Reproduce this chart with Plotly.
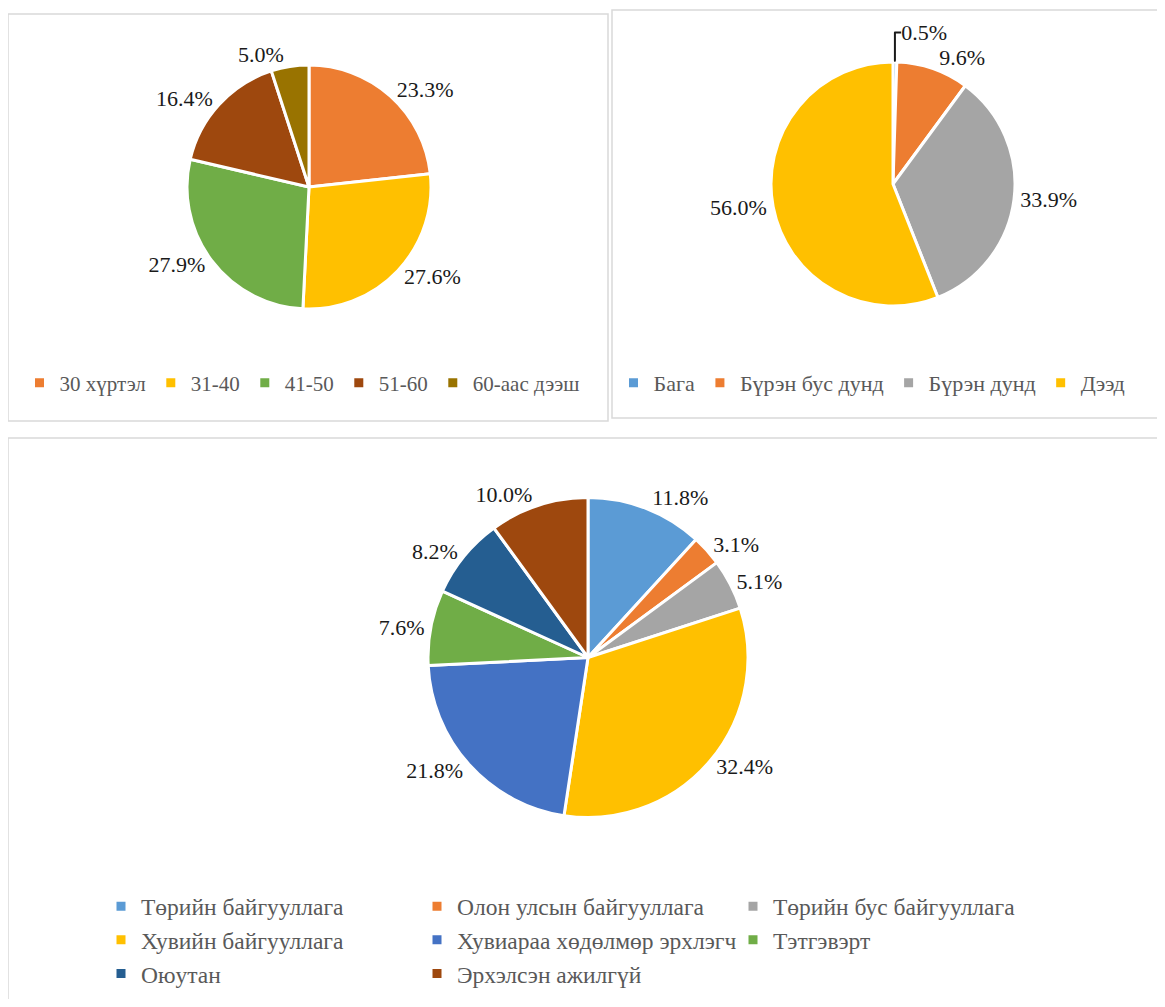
import plotly.graph_objects as go

# page is shown inside the default 8px body margin; figure sized to fit the window
OFF = 8
W, H = 1165 - 2 * OFF, 1007 - 2 * OFF

# ---- data ----
age_labels = ["30 хүртэл", "31-40", "41-50", "51-60", "60-аас дээш"]
age_values = [23.3, 27.6, 27.9, 16.4, 5.0]
age_colors = ["#ED7D31", "#FFC000", "#70AD47", "#9E480E", "#997300"]

edu_labels = ["Бага", "Бүрэн бус дунд", "Бүрэн дунд", "Дээд"]
edu_values = [0.5, 9.6, 33.9, 56.0]
edu_colors = ["#5B9BD5", "#ED7D31", "#A5A5A5", "#FFC000"]

job_labels = ["Төрийн байгууллага", "Олон улсын байгууллага", "Төрийн бус байгууллага",
              "Хувийн байгууллага", "Хувиараа хөдөлмөр эрхлэгч", "Тэтгэвэрт",
              "Оюутан", "Эрхэлсэн ажилгүй"]
job_values = [11.8, 3.1, 5.1, 32.4, 21.8, 7.6, 8.2, 10.0]
job_colors = ["#5B9BD5", "#ED7D31", "#A5A5A5", "#FFC000", "#4472C4", "#70AD47",
              "#255E91", "#9E480E"]

FONT = "Liberation Serif"


def px(x):
    return (x - OFF) / W


def py(y):
    return 1 - (y - OFF) / H


def pie(labels, values, colors, dom, legend):
    tf = dict(family=FONT, size=22, color="#1a1a1a")
    return go.Pie(
        labels=labels, values=values, sort=False, direction="clockwise", rotation=0,
        marker=dict(colors=colors, line=dict(color="white", width=3)),
        texttemplate="%{value:.1f}%", textposition="outside",
        textfont=tf, outsidetextfont=tf,
        domain=dict(x=[px(dom[0]), px(dom[1])], y=[py(dom[3]), py(dom[2])]),
        legend=legend, hoverinfo="label+percent",
    )


fig = go.Figure()
fig.add_trace(pie(age_labels, age_values, age_colors, (187, 431, 65, 309), "legend"))
fig.add_trace(pie(edu_labels, edu_values, edu_colors, (770, 1016, 62, 306), "legend2"))
fig.add_trace(pie(job_labels, job_values, job_colors, (428, 748, 497, 818), "legend3"))


def lf(s):
    return dict(family=FONT, size=s, color="#595959")


fig.update_layout(
    width=W, height=H, margin=dict(l=0, r=0, t=0, b=0),
    paper_bgcolor="white", plot_bgcolor="white",
    font=dict(family=FONT),
    legend=dict(orientation="h", x=px(302), y=py(383), xanchor="center", yanchor="middle",
                font=lf(21), bgcolor="rgba(0,0,0,0)", itemclick=False),
    legend2=dict(orientation="h", x=px(872), y=py(383), xanchor="center", yanchor="middle",
                 font=lf(22), bgcolor="rgba(0,0,0,0)", itemclick=False),
    legend3=dict(orientation="h", x=px(101), y=py(940), xanchor="left", yanchor="middle",
                 font=lf(23.5), bgcolor="rgba(0,0,0,0)", entrywidth=271,
                 entrywidthmode="pixels", itemclick=False),
    shapes=[
        dict(type="rect", xref="paper", yref="paper", x0=px(8), x1=px(608), y0=py(421), y1=py(14),
             line=dict(color="#D9D9D9", width=1.5)),
        dict(type="rect", xref="paper", yref="paper", x0=px(612), x1=px(1180), y0=py(418), y1=py(10),
             line=dict(color="#D9D9D9", width=1.5)),
        dict(type="rect", xref="paper", yref="paper", x0=px(8), x1=px(1180), y0=py(1020), y1=py(438),
             line=dict(color="#D9D9D9", width=1.5)),
    ],
)

fig.write_html("out.html")
